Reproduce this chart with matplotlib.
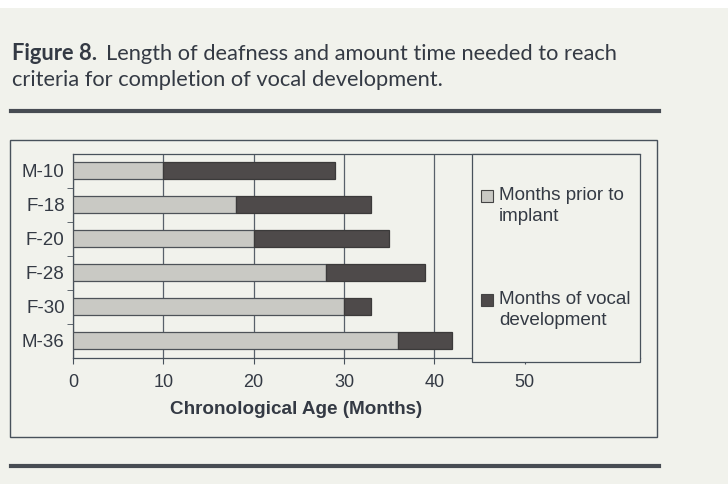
import matplotlib
matplotlib.use("Agg")
import matplotlib.pyplot as plt
from matplotlib.patches import Rectangle
from matplotlib.lines import Line2D

# ---- data ----
subjects = ["M-10", "F-18", "F-20", "F-28", "F-30", "M-36"]
months_prior = [10, 18, 20, 28, 30, 36]
months_vocal = [19, 15, 15, 11, 3, 6]
xticks = [0, 10, 20, 30, 40, 50]
legend_labels = ["Months prior to\nimplant", "Months of vocal\ndevelopment"]
title_bold = "Figure 8."
title_line1 = "Length of deafness and amount time needed to reach"
title_line2 = "criteria for completion of vocal development."
xlabel = "Chronological Age (Months)"

# ---- style ----
W, H = 728, 484
paper = "#f1f2ec"
ink = "#343a44"
line_c = "#48515b"
light = "#c9c9c4"
dark = "#4e4a4a"
sans = ["Liberation Sans", "DejaVu Sans"]
tfont = ["Lato", "DejaVu Sans"]

fig = plt.figure(figsize=(W / 100, H / 100), dpi=100)
fig.patch.set_facecolor(paper)


def fx(px):
    return px / W


def fy(py):
    return 1 - py / H


fig.add_artist(Rectangle((0, fy(8)), 1, 8 / H, transform=fig.transFigure,
                         facecolor="white", edgecolor="none", zorder=0))

# title (font size fitted so that line 1 spans the same width as the reference)
renderer = fig.canvas.get_renderer()


def draw_title(fs):
    a = fig.text(fx(12), fy(59.5), title_bold, fontsize=fs, fontweight="bold",
                 family=tfont, color=ink, va="baseline", ha="left")
    bb = a.get_window_extent(renderer)
    b = fig.text(bb.x1 / W + fx(fs * 0.55), fy(59.5), title_line1, fontsize=fs,
                 family=tfont, color=ink, va="baseline", ha="left")
    c = fig.text(fx(12), fy(86), title_line2, fontsize=fs,
                 family=tfont, color=ink, va="baseline", ha="left")
    return a, b, c


fs0 = 14.5
arts = draw_title(fs0)
right = arts[1].get_window_extent(renderer).x1
for a in arts:
    a.remove()
fs1 = fs0 * (617 - 12) / (right - 12)
draw_title(fs1)

# rules
for yy in (111, 466):
    fig.add_artist(Line2D([fx(11), fx(659)], [fy(yy), fy(yy)], color="#474c53",
                          lw=3.0, transform=fig.transFigure))
# outer frame
fig.add_artist(Rectangle((fx(10), fy(437)), fx(657) - fx(10), (437 - 140) / H,
                         fill=False, edgecolor=line_c, lw=1.0,
                         transform=fig.transFigure))

# axes
ax = fig.add_axes([fx(73), fy(358), fx(640) - fx(73), (358 - 153.5) / H])
ax.set_facecolor(paper)
ypos = list(range(len(subjects)))
ax.barh(ypos, months_prior, height=0.5, color=light, edgecolor="#4d5258",
        lw=0.9, zorder=3)
ax.barh(ypos, months_vocal, left=months_prior, height=0.5, color=dark,
        edgecolor="#3b3a3a", lw=0.9, zorder=3)
ax.set_xlim(0, (640 - 73.3) / 9.027)
ax.set_ylim(len(subjects) - 0.5, -0.5)
ax.set_xticks(xticks)
ax.set_xticklabels([str(v) for v in xticks], family=sans, fontsize=13, color=ink)
ax.set_yticks(ypos)
ax.set_yticklabels(subjects, family=sans, fontsize=13.5, color=ink)
ax.set_yticks([i + 0.5 for i in ypos[:-1]], minor=True)
ax.tick_params(axis="y", which="major", length=0, pad=6)
ax.tick_params(axis="y", which="minor", length=4, direction="out", color=line_c)
ax.tick_params(axis="x", which="both", length=4.5, direction="out", color=line_c,
               pad=7)
ax.grid(axis="x", color="#58606a", lw=0.9)
ax.set_axisbelow(True)
for s in ("left", "bottom", "top"):
    ax.spines[s].set_color(line_c)
    ax.spines[s].set_linewidth(0.9)
ax.spines["right"].set_visible(False)

fig.text(fx(296), fy(410), xlabel, family=sans, fontsize=13.6, fontweight="bold",
         color=ink, ha="center", va="center")

# legend (manual)
fig.add_artist(Rectangle((fx(472), fy(362)), fx(640) - fx(472), (362 - 153.5) / H,
                         facecolor=paper, edgecolor=line_c, lw=0.9,
                         transform=fig.transFigure, zorder=5))
for lab, col, ytop in zip(legend_labels, [light, dark], [190, 294]):
    fig.add_artist(Rectangle((fx(481), fy(ytop + 11.5)), 11.5 / W, 11.5 / H,
                             facecolor=col, edgecolor="#444", lw=0.8,
                             transform=fig.transFigure, zorder=6))
    fig.text(fx(499), fy(ytop - 3), lab, family=sans, fontsize=13.6, color=ink,
             ha="left", va="top", linespacing=1.3, zorder=7)

fig.savefig("out.png", dpi=100, facecolor=paper)
